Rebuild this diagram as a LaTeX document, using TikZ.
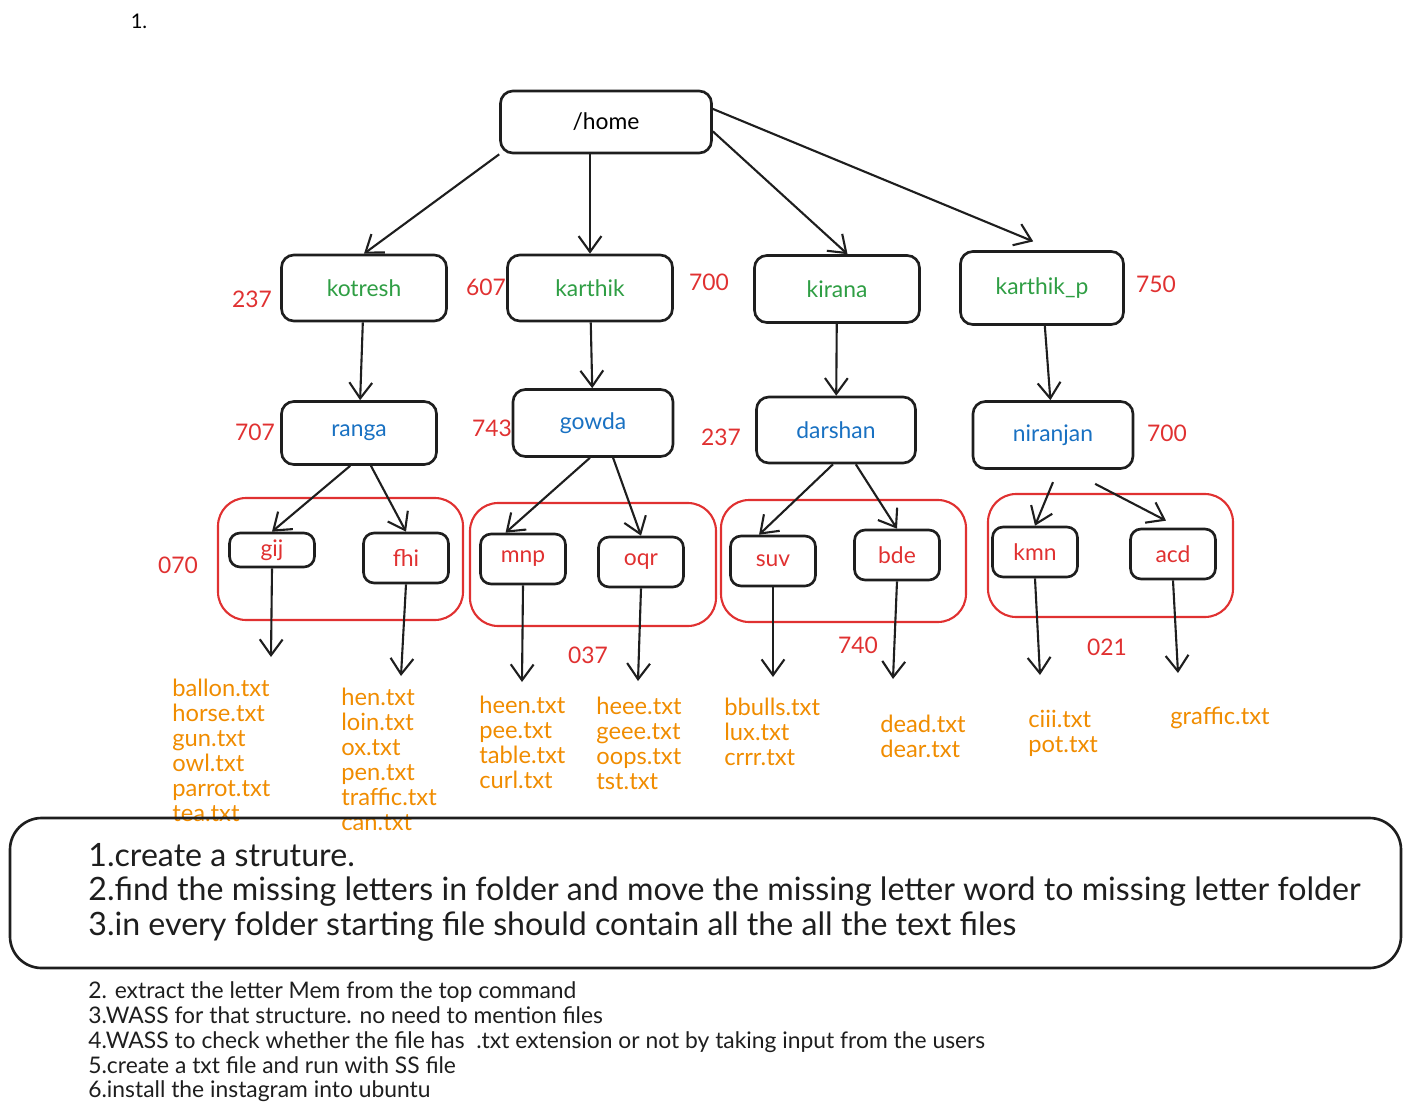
\documentclass[tikz,border=0pt]{standalone}
\usepackage{fontspec}
\setmainfont{Lato}
\usepackage{tikz}
\usetikzlibrary{arrows.meta}
\usetikzlibrary{positioning}
\definecolor{ink}{HTML}{1E1E1E}
\definecolor{usergreen}{HTML}{2F9E44}
\definecolor{subblue}{HTML}{1971C2}
\definecolor{permred}{HTML}{E03131}
\definecolor{fileorange}{HTML}{F08C00}
\tikzstyle{folder}=[draw=ink,line width=1.5pt,rounded corners=7pt,minimum width=3.3cm,minimum height=1.32cm,font=\fontsize{13}{15}\selectfont]
\tikzstyle{leaf}=[folder,text=permred,minimum width=1.7cm,minimum height=1cm,rounded corners=6pt]
\tikzstyle{perm}=[text=permred,font=\fontsize{13}{15}\selectfont]
\tikzstyle{files}=[text=fileorange,anchor=north west,inner sep=0pt,align=left,font=\fontsize{13.5}{14.2}\selectfont]
\tikzstyle{arr}=[draw=ink,line width=1.2pt,-{Straight Barb[length=9pt,width=13pt]}]
\tikzstyle{group}=[draw=permred,line width=1.2pt,rounded corners=16pt]

\begin{document}
\begin{tikzpicture}[x=0.02cm,y=-0.02cm]
\useasboundingbox (0,0) rectangle (1411,1113);
\node [font=\fontsize{11.5}{13}\selectfont] (title) at (139,21) {1.};
% top of the tree
\node [folder,minimum width=4.22cm,minimum height=1.24cm] (home) at (606,122) {/home};
\node [folder,text=usergreen] (kotresh) at (364,288) {kotresh};
\node [folder,text=usergreen] (karthik) at (590,288) {karthik};
\node [folder,text=usergreen,minimum height=1.34cm] (kirana) at (837,289) {kirana};
\node [folder,text=usergreen,minimum width=3.26cm,minimum height=1.46cm] (karthikp) at (1042,288) {karthik\_p};
\node [folder,text=subblue,minimum width=3.1cm,minimum height=1.26cm] (ranga) at (359,433) {ranga};
\node [folder,text=subblue,minimum width=3.2cm,minimum height=1.34cm] (gowda) at (593,423) {gowda};
\node [folder,text=subblue,minimum width=3.18cm] (darshan) at (836,430) {darshan};
\node [folder,text=subblue,minimum width=3.2cm,minimum height=1.34cm] (niranjan) at (1053,435) {niranjan};
% permissions
\node [perm] (pkotresh) at (252,299) {237};
\node [perm] (pkarthik) at (486,287) {607};
\node [perm] (pkirana) at (709,282) {700};
\node [perm] (pkarthikp) at (1156,284) {750};
\node [perm] (pranga) at (255,432) {707};
\node [perm] (pgowda) at (492,428) {743};
\node [perm] (pdarshan) at (721,437) {237};
\node [perm] (pniranjan) at (1167,433) {700};
\node [perm] (pgroupa) at (178,565) {070};
\node [perm] (pgroupb) at (588,655) {037};
\node [perm] (pgroupc) at (858,645) {740};
\node [perm] (pgroupd) at (1107,647) {021};
% red groups
\draw [group] (218,498) rectangle (463,620);
\draw [group] (470,503) rectangle (716,626);
\draw [group] (721,500) rectangle (966,622);
\draw [group] (988,494) rectangle (1233,617);
% leaf folders
\node [leaf,minimum height=0.68cm] (gij) at (272,550) {gij};
\node [leaf] (fhi) at (406,558) {fhi};
\node [leaf] (mnp) at (523,559) {mnp};
\node [leaf] (oqr) at (641,562) {oqr};
\node [leaf] (suv) at (773,561) {suv};
\node [leaf] (bde) at (897,555) {bde};
\node [leaf] (kmn) at (1035,552) {kmn};
\node [leaf] (acd) at (1173,554) {acd};
% arrows
\draw [arr] (home.south west) -- (kotresh.north);
\draw [arr] (home.south -| karthik.north) -- (karthik.north);
\draw [arr] (home.-5) -- ([xshift=6pt]kirana.north);
\draw [arr] (home.7) -- ([xshift=-5pt,yshift=5pt]karthikp.north);
\draw [arr] (kotresh) -- (ranga);
\draw [arr] (karthik) -- (gowda);
\draw [arr] (kirana) -- (darshan);
\draw [arr] (karthikp) -- (niranjan);
\draw [arr] (ranga.-105) -- (gij.north);
\draw [arr] (ranga.-70) -- (fhi.north);
\draw [arr] (gowda.-95) -- ([xshift=15pt]mnp.north west);
\draw [arr] (gowda.-60) -- (oqr.north);
\draw [arr] (darshan.-95) -- ([xshift=17pt]suv.north west);
\draw [arr] (darshan.-60) -- (bde.north);
\draw [arr] ([yshift=-7pt]niranjan.south) -- (kmn.north);
\draw [arr] ([xshift=24pt,yshift=-8pt]niranjan.south) -- ([xshift=-4pt,yshift=4pt]acd.north);
% into the file lists
\coordinate (gijend) at (271,657);
\coordinate (fhiend) at (401,676);
\coordinate (mnpend) at (522,682);
\coordinate (oqrend) at (638,681);
\coordinate (suvend) at (773,677);
\coordinate (bdeend) at (893,679);
\coordinate (kmnend) at (1040,675);
\coordinate (acdend) at (1178,673);
\draw [arr] (gij.south) -- (gijend);
\draw [arr] (fhi.south) -- (fhiend);
\draw [arr] (mnp.south) -- (mnpend);
\draw [arr] (oqr.south) -- (oqrend);
\draw [arr] (suv.south) -- (suvend);
\draw [arr] (bde.south) -- (bdeend);
\draw [arr] (kmn.south) -- (kmnend);
\draw [arr] (acd.south) -- (acdend);
% files
\node [files] (fgij) at (172,679) {ballon.txt\\horse.txt\\gun.txt\\owl.txt\\parrot.txt\\tea.txt};
\node [files] (ffhi) at (341,688) {hen.txt\\loin.txt\\ox.txt\\pen.txt\\traffic.txt\\can.txt};
\node [files] (fmnp) at (479,696) {heen.txt\\pee.txt\\table.txt\\curl.txt};
\node [files] (foqr) at (596,697) {heee.txt\\geee.txt\\oops.txt\\tst.txt};
\node [files] (fsuv) at (724,698) {bbulls.txt\\lux.txt\\crrr.txt};
\node [files] (fbde) at (880,715) {dead.txt\\dear.txt};
\node [files] (fkmn) at (1028,710) {ciii.txt\\pot.txt};
\node [files] (facd) at (1170,707) {graffic.txt};
% tasks
\draw [draw=ink,line width=1.5pt,rounded corners=18pt] (10,818) rectangle (1401,968);
\node [anchor=north west,inner sep=0pt,align=left,text=ink,font=\fontsize{18.3}{19.6}\selectfont] (tasks) at (88,843) {1.create a struture.\\2.find the missing letters in folder and move the missing letter word to missing letter folder\\3.in every folder starting file should contain all the all the text files};
\node [anchor=north west,inner sep=0pt,align=left,text=ink,font=\fontsize{13}{14.2}\selectfont] (notes) at (88,981) {2. extract the letter Mem from the top command\\3.WASS for that structure. no need to mention files\\4.WASS to check whether the file has\ \ .txt extension or not by taking input from the users\\5.create a txt file and run with SS file\\6.install the instagram into ubuntu};
\end{tikzpicture}
\end{document}
